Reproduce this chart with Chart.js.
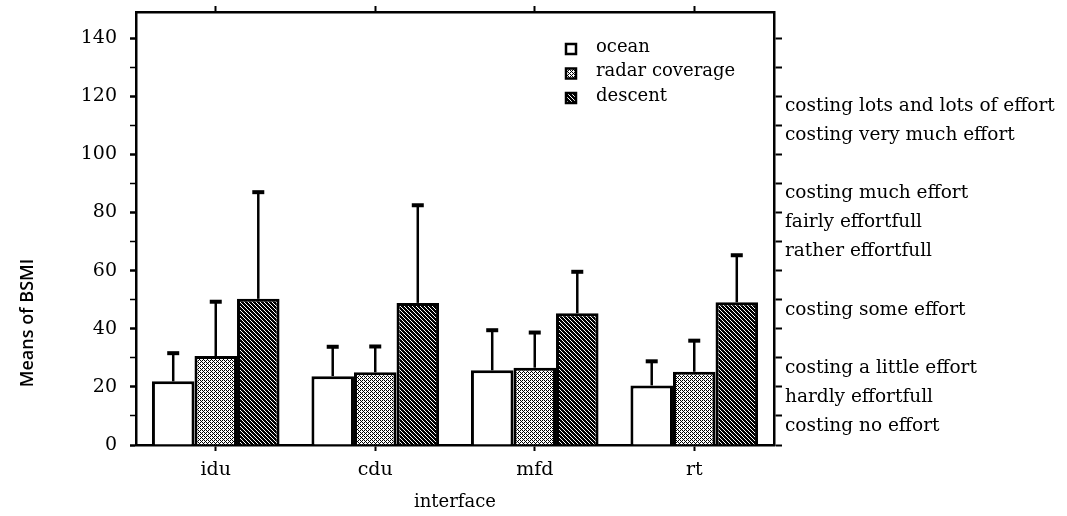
<!DOCTYPE html>
<html>
<head>
<meta charset="utf-8">
<title>Means of BSMI per interface</title>
<script src="https://cdn.jsdelivr.net/npm/chart.js@4.4.1/dist/chart.umd.min.js"></script>
<style>
    html, body { margin: 0; padding: 0; background: #fff; }
    #wrap { width: 1067px; height: 516px; }
</style>
</head>
<body>
<div id="wrap"><canvas id="bsmi-chart" width="1067" height="516"></canvas></div>
<script>
// data
var interfaces = ['idu', 'cdu', 'mfd', 'rt'];
var oceanMeans = [21.9, 23.7, 25.7, 20.5];
var radarMeans = [30.6, 25.0, 26.6, 25.2];
var descentMeans = [50.3, 48.9, 45.3, 49.1];

// top end of each error bar
var oceanUpper = [31.6, 33.8, 39.5, 28.8];
var radarUpper = [49.3, 33.9, 38.7, 35.9];
var descentUpper = [87.0, 82.5, 59.6, 65.3];

// axis ticks
var leftTicks = [0, 10, 20, 30, 40, 50, 60, 70, 80, 90, 100, 110, 120, 130, 140];
var rightTicks = [0, 10, 20, 30, 40, 50, 60, 70, 80, 90, 100, 110, 120, 130, 140];
var effortValues = [10, 20, 30, 50, 70, 80, 90, 110, 120];
var effortLabels = [
    'costing no effort',
    'hardly effortfull',
    'costing a little effort',
    'costing some effort',
    'rather effortfull',
    'fairly effortfull',
    'costing much effort',
    'costing very much effort',
    'costing lots and lots of effort'
];

var serif = "'DejaVu Serif', 'Liberation Serif', serif";
var canvas = document.getElementById('bsmi-chart');

// bitmap fills for the bars
function makePattern(size, isInk) {
    var c = document.createElement('canvas');
    c.width = size;
    c.height = size;
    var pctx = c.getContext('2d');
    pctx.fillStyle = '#fff';
    pctx.fillRect(0, 0, size, size);
    pctx.fillStyle = '#000';
    for (var y = 0; y < size; y++) {
        for (var x = 0; x < size; x++) {
            if (isInk(x, y)) pctx.fillRect(x, y, 1, 1);
        }
    }
    return canvas.getContext('2d').createPattern(c, 'repeat');
}
var dotFill = makePattern(4, function (x, y) {
    return (x % 2 === 0 && y % 2 === 0) || (x === 1 && y === 1) || (x === 3 && y === 3);
});
var hatchFill = makePattern(4, function (x, y) {
    return (x - y + 4) % 4 !== 2;
});

// drop the label padding so the plot box keeps the size set in afterFit
function noPadding(axis) {
    axis.paddingTop = 0;
    axis.paddingBottom = 0;
    axis.paddingLeft = 0;
    axis.paddingRight = 0;
}

// error bars: line up from the bar top with a short cap
var errorBars = {
    id: 'errorBars',
    afterDatasetsDraw: function (chart) {
        var ctx = chart.ctx;
        var yScale = chart.scales.y;
        ctx.save();
        ctx.strokeStyle = '#000';
        chart.data.datasets.forEach(function (ds, i) {
            var meta = chart.getDatasetMeta(i);
            meta.data.forEach(function (bar, j) {
                var yEnd = yScale.getPixelForValue(ds.upper[j]);
                ctx.lineWidth = 2.5;
                ctx.beginPath();
                ctx.moveTo(bar.x, bar.y);
                ctx.lineTo(bar.x, yEnd);
                ctx.stroke();
                ctx.lineWidth = 4;
                ctx.beginPath();
                ctx.moveTo(bar.x - 6, yEnd);
                ctx.lineTo(bar.x + 6, yEnd);
                ctx.stroke();
            });
        });
        ctx.restore();
    }
};

// small legend box inside the plot
var boxLegend = {
    id: 'boxLegend',
    afterDraw: function (chart) {
        var ctx = chart.ctx;
        var x0 = 566, y0 = 49, step = 24.5;
        ctx.save();
        ctx.font = '18px ' + serif;
        ctx.textBaseline = 'middle';
        chart.data.datasets.forEach(function (ds, i) {
            var y = y0 + i * step;
            ctx.fillStyle = ds.backgroundColor;
            ctx.fillRect(x0, y - 5, 10, 10);
            ctx.lineWidth = 2.5;
            ctx.strokeStyle = '#000';
            ctx.strokeRect(x0, y - 5, 10, 10);
            ctx.fillStyle = '#000';
            ctx.fillText(ds.label, x0 + 30, y - 2);
        });
        ctx.restore();
    }
};

// rotated left title
var leftTitle = {
    id: 'leftTitle',
    afterDraw: function (chart) {
        var ctx = chart.ctx;
        ctx.save();
        ctx.translate(28, 323);
        ctx.rotate(-Math.PI / 2);
        ctx.font = "600 18px 'Open Sans', sans-serif";
        ctx.fillStyle = '#000';
        ctx.textAlign = 'center';
        ctx.textBaseline = 'middle';
        ctx.fillText('Means of BSMI', 0, 0);
        ctx.restore();
    }
};

var axisBorder = { display: true, color: '#000', width: 2.5 };

var bsmiChart = new Chart(canvas, {
    type: 'bar',
    data: {
        labels: interfaces,
        datasets: [
            { label: 'ocean', data: oceanMeans, upper: oceanUpper, backgroundColor: '#fff' },
            { label: 'radar coverage', data: radarMeans, upper: radarUpper, backgroundColor: dotFill },
            { label: 'descent', data: descentMeans, upper: descentUpper, backgroundColor: hatchFill }
        ]
    },
    options: {
        responsive: false,
        animation: false,
        layout: { padding: 0 },
        datasets: {
            bar: {
                borderColor: '#000',
                borderWidth: 3,
                categoryPercentage: 0.8,
                barPercentage: 1.0
            }
        },
        plugins: {
            legend: { display: false },
            tooltip: { enabled: false }
        },
        scales: {
            x: {
                type: 'category',
                offset: true,
                grid: { drawOnChartArea: false, offset: false, tickLength: 6, tickWidth: 2, tickColor: '#000' },
                border: axisBorder,
                ticks: { color: '#000', font: { family: serif, size: 19 }, padding: 8, maxRotation: 0 },
                title: {
                    display: true,
                    text: 'interface',
                    color: '#000',
                    font: { family: serif, size: 18 },
                    padding: { top: 0, bottom: 3 }
                },
                afterFit: function (axis) { axis.height = 71; noPadding(axis); }
            },
            xTop: {
                type: 'category',
                position: 'top',
                offset: true,
                grid: { drawOnChartArea: false, offset: false, tickLength: 6, tickWidth: 2, tickColor: '#000' },
                border: axisBorder,
                ticks: { display: false },
                afterFit: function (axis) { axis.height = 12; noPadding(axis); }
            },
            y: {
                type: 'linear',
                min: 0,
                max: 149,
                afterBuildTicks: function (axis) {
                    axis.ticks = leftTicks.map(function (v) { return { value: v }; });
                },
                grid: {
                    drawOnChartArea: false,
                    tickLength: 6,
                    tickColor: '#000',
                    tickWidth: function (c) { return c.tick && c.tick.value % 20 === 0 ? 2.5 : 1.5; }
                },
                border: axisBorder,
                ticks: {
                    color: '#000',
                    font: { family: serif, size: 19 },
                    padding: 13,
                    callback: function (v) { return v % 20 === 0 ? v : ''; }
                },
                afterFit: function (axis) { axis.width = 136; noPadding(axis); }
            },
            yRight: {
                type: 'linear',
                position: 'right',
                min: 0,
                max: 149,
                afterBuildTicks: function (axis) {
                    axis.ticks = rightTicks.map(function (v) { return { value: v }; });
                },
                grid: { drawOnChartArea: false, tickLength: 8, tickWidth: 2, tickColor: '#000' },
                border: axisBorder,
                ticks: {
                    color: '#000',
                    font: { family: serif, size: 18.5 },
                    padding: 3,
                    labelOffset: 10,
                    callback: function (v) {
                        var k = effortValues.indexOf(v);
                        return k < 0 ? '' : effortLabels[k];
                    }
                },
                afterFit: function (axis) { axis.width = 293; noPadding(axis); }
            }
        }
    },
    plugins: [errorBars, boxLegend, leftTitle]
});
</script>
</body>
</html>
